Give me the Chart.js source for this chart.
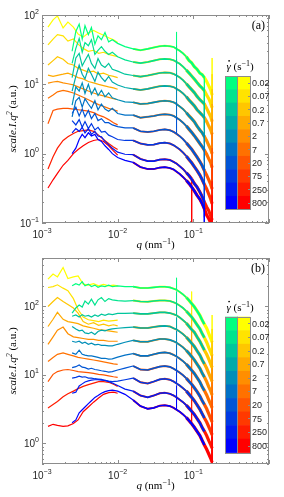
<!DOCTYPE html>
<html><head><meta charset="utf-8">
<script src="https://cdn.jsdelivr.net/npm/chart.js@4.4.0/dist/chart.umd.min.js"></script>
<style>
html,body{margin:0;padding:0;background:#fff;width:284px;height:497px;overflow:hidden}
canvas{position:absolute;left:0}
#ca{top:0}#cb{top:250px}
</style></head>
<body>
<canvas id="ca" width="284" height="250"></canvas>
<canvas id="cb" width="284" height="247"></canvas>
<script>
// ---------- categories / ticks ----------
const rates = ['0.02','0.07','0.2','0.7','2','7','20','75','250','800'];
const xTickExp = [-3,-2,-1];
const yTickExpA = [-1,0,1,2];
const yTickExpB = [0,1,2];
// ---------- q grids (nm^-1) ----------
const qLowA = [0.0012,0.0014,0.0016,0.0019,0.0022,0.0026,0.0030,0.0035,0.0041,0.0048,0.0056,0.0065,0.0076,0.0088,0.0100];
const qLowW = [0.0025,0.0028,0.0031,0.0034,0.0037,0.0041,0.0045,0.0050,0.0055,0.0061,0.0068,0.0076,0.0085,0.0100,0.0125];
const qHigh = [0.016,0.020,0.025,0.030,0.036,0.042,0.049,0.055,0.060,0.066,0.073,0.081,0.088,0.095,0.103,0.112,0.122,0.131,0.140,0.150,0.160,0.170,0.177];
const qGap = 0.0125, iSpikeW = 8, iSpikeA = 13, iWEnd = 18, iTail = 22;

// ---------- panel (a) ----------
const aAutLow = [
 [67,85,97,65,79,67,53,48,55,60,55,51,47,44,40],
 [37,45,52,50,42,45,38,33,30,31,28,29,27,26,25],
 [19,22,25,23,20,19,17,16,15,15.5,14,14.5,13.5,13,12.5],
 [13.6,13,13.5,14,14.5,13.5,12.5,12,11,10.5,10,9.6,9.2,8.9,8.5],
 [10.4,10.8,11,10.5,10.2,9.8,9.2,8.6,8,7.5,7.1,6.8,6.5,6.2,6.0],
 [6.3,7,7.8,8.2,7.9,7.5,7,6.5,6,5.5,5.1,4.8,4.5,4.3,4.1],
 [2.7,4.2,4.4,4.5,4.5,4.4,4.3,4.2,4.1,3.9,3.6,3.4,3.1,2.8,2.6],
 null,
 [0.6,0.9,1.2,1.55,1.75,1.95,2.1,2.15,2.2,2.1,1.85,1.6,1.4,1.25,1.15],
 [0.32,0.42,0.52,0.68,0.8,1.0,1.15,1.3,1.45,1.55,1.6,1.5,1.3,1.1,0.95]
];
const aWinLow = [
 [30,58,74,45,70,52,66,38,50,44,56,41,44,39,35],
 [20,33,46,29,40,36,44,27,31,35,30,27,29,25,22.5],
 [12.5,24,28,18.5,22,27,20,17,23.5,19,17.5,20,16.5,15.5,14],
 [8,13,19,14,12,17,14,11,15,12.5,11,13,10.8,9.8,9],
 [5,9.2,8,10.5,7.4,10,7.2,8.8,6.9,8.2,6.6,7.5,6.4,6,5.6],
 [3.4,5.8,6.5,4.7,6.2,5.2,4.5,5.8,4.3,5.2,4.4,4.1,4.5,3.8,3.6],
 [3.8,4.7,3.5,4.4,3.4,4.2,3.2,3.8,3.0,3.2,2.8,2.8,2.6,2.45,2.35],
 [3.0,2.6,3.1,2.4,2.9,2.3,2.7,2.2,2.4,2.05,2.1,1.85,1.75,1.6,1.55],
 [2.0,2.3,2.1,2.4,2.0,2.3,1.9,2.1,1.8,1.75,1.5,1.35,1.2,1.05,0.98],
 [1.0,1.2,1.6,1.9,1.7,2.0,1.8,1.9,1.6,1.5,1.3,1.15,1.0,0.88,0.8]
];
const aHigh = [
 [32.5,31,32.5,34,35.5,36,35.5,34.5,32.5,30.5,28,25,22,20.5,18,16.5,14.5,13.8,12.5,11,9.5,8.3,7],
 [21,20.2,21,22,23,23.3,23,22.2,21,19.8,18,16,14.5,13.2,11.9,10.6,9.5,8.8,8.1,7.0,6.2,5.3,4.6],
 [13.4,12.9,13.4,14,14.6,14.8,14.7,14.1,13.4,12.6,11.5,10.2,9.2,8.4,7.6,6.7,6.0,5.6,5.2,4.5,3.9,3.4,2.9],
 [8.6,8.3,8.6,9,9.4,9.5,9.4,9.1,8.6,8.1,7.4,6.6,5.9,5.4,4.9,4.3,3.9,3.6,3.3,2.9,2.5,2.2,1.9],
 [5.5,5.2,5.3,5.5,5.7,5.8,5.7,5.5,5.2,4.8,4.4,3.9,3.5,3.2,2.9,2.5,2.2,2.0,1.76,1.54,1.32,1.15,1.0],
 [3.6,3.3,3.4,3.5,3.65,3.7,3.65,3.5,3.3,3.08,2.8,2.5,2.24,2.03,1.82,1.6,1.4,1.26,1.12,0.98,0.84,0.74,0.63],
 [2.35,2.1,2.05,2.1,2.2,2.24,2.18,2.06,1.93,1.79,1.62,1.43,1.28,1.16,1.02,0.89,0.77,0.67,0.57,0.49,0.42,0.36,0.31],
 [1.55,1.4,1.34,1.35,1.42,1.44,1.4,1.32,1.24,1.15,1.04,0.92,0.82,0.74,0.65,0.57,0.49,0.42,0.36,0.31,0.26,0.22,0.19],
 [0.97,0.84,0.78,0.78,0.82,0.83,0.81,0.76,0.72,0.66,0.6,0.53,0.48,0.43,0.37,0.33,0.28,0.24,0.2,0.17,0.15,0.125,0.11],
 [0.75,0.64,0.6,0.6,0.63,0.64,0.62,0.59,0.55,0.51,0.46,0.41,0.37,0.33,0.29,0.25,0.22,0.19,0.16,0.13,0.115,0.1,0.085]
];
const aWinSpike = [57,36,23,14.5,8.8,5.5,3.3,null,null,null];     // at q=0.060
const aAutSpike = [null,null,null,null,null,null,null,null,0.02,0.02]; // at q=0.095
const aWinEnd   = [5.5,3.5,2.2,1.4,0.8,0.5,0.25,0.12,0.05,0.05]; // end at q=0.140
const aAutTail  = [24,14,8.5,5.2,3.2,2.0,1.2,0.7,0.4,0.25];      // at q=0.177
const aOff = 0.01;

// ---------- panel (b) ----------
const bAutLow = [
 [250,297,270,370,255,270,280,212,205,215,200,210,200,205,200],
 [189,195,207,185,170,130,90,70,64,62,60,63,61,62,63],
 [100,118,135,118,107,95,80,60,55,58,53,55,52,54,52],
 [51,65,82,65,60,58,56,52,50,48,46,45,44,43,42],
 [28,36,45,50,40,36,35,34,33,33,32,32,31,31,31],
 [15.7,18,20,21,20,19,18,17.5,17,16.5,16,15.5,15,14.5,14.3],
 [8.0,10.2,11.2,11.8,12,11.6,11.2,11,10.8,10.5,10.2,10,9.7,9.4,9.2],
 null,
 [3.3,3.7,4.1,4.8,5.3,5.8,6.3,6.8,7.2,7.6,8.0,8.0,7.8,7.3,6.8],
 [1.77,1.9,1.83,1.77,1.8,1.95,2.2,2.9,3.4,4.0,4.6,5.2,5.5,5.6,5.4]
];
const bWinLow = [
 [200,215,205,230,200,212,195,205,190,200,195,205,195,200,195],
 [80,95,105,98,120,108,128,105,125,135,118,130,125,122,120],
 [72,75,70,76,72,74,70,75,72,77,74,78,76,79,79],
 [51,47,44,45,41,40,42,39,43,45,44,46,47,48,49],
 [31,30,31,29,30,28,29,27.5,28,27,27,26.5,26.5,28,30],
 [21,20,23,20,19.5,19,19,18.5,18,17.5,17.5,17,17.2,18.2,19.5],
 [12.8,13.2,14,13,12.8,12.2,12.5,12,11.8,11.5,11.3,11,11.2,11.8,12.6],
 [9,9.2,9.6,9.3,9.4,9.0,9.0,8.8,8.7,8.6,8.3,8.1,8.0,8.1,8.5],
 [5.4,5.6,6.9,7.4,7.9,8.2,8.4,8.5,8.5,8.4,8.3,8.0,7.6,7.0,6.2],
 [2.0,2.2,2.8,3.1,3.4,3.8,4.2,4.7,5.0,5.4,5.7,5.9,6.0,5.8,5.2]
];
const bHigh = [
 [195,186,186,190,194,194,190,182,175,163,150,135,122,110,99,86,74,63,55,48,40,34,30],
 [122,118,117,120,122,122,120,115,110,103,95,85,77,70,62,54,47,40,35,30,25,21.6,19],
 [80,78,78,80,82,82,80,77,74,69,63,57,51,46,42,36,31,26.5,23,20,17,14.4,12.8],
 [50,48.5,48.5,50,51.5,52,51,48,46,43,39.5,35.5,32,29,26,22.5,19.5,16.5,14.5,12.5,10.5,9,8],
 [32,30.5,30.5,32,33.5,33.5,32.5,31,29.5,27.5,25.3,22.7,20.5,18.5,16.6,14.4,12.5,10.6,9.3,8,6.7,5.8,5.1],
 [20.5,19,19,20,21,21.3,20.7,19.6,18.6,17.3,15.9,14.3,12.9,11.7,10.5,9.1,7.9,6.7,5.9,5.1,4.3,3.7,3.3],
 [13.5,12,11.8,12.5,13.2,13.5,13.1,12.3,11.6,10.8,9.9,8.9,8.0,7.3,6.5,5.7,4.9,4.2,3.7,3.2,2.7,2.3,2.05],
 [9,7.8,7.5,8,8.6,8.8,8.5,8.0,7.5,7.0,6.4,5.8,5.2,4.7,4.2,3.65,3.15,2.7,2.35,2.05,1.75,1.5,1.33],
 [5.8,5.0,4.7,5.0,5.4,5.5,5.3,5.0,4.7,4.35,4.0,3.6,3.25,2.95,2.65,2.3,2.0,1.7,1.5,1.3,1.1,0.95,0.85],
 [4.3,3.5,3.2,3.3,3.55,3.6,3.5,3.3,3.1,2.9,2.65,2.38,2.14,1.93,1.72,1.5,1.3,1.1,0.95,0.82,0.7,0.6,0.53]
];
const bWinSpike = [262,165,111,69,44,28,17.4,11.2,7,4.6];
const bAutSpike = [165,105,70,44,28,18,11,7.2,4.5,3.0];
const bWinEnd   = [null,null,null,null,null,null,null,null,null,null];
const bAutTail  = [75,47,31,19.5,12.5,7.8,4.9,3.1,1.95,1.25];
const bOff = 0.3;

// ---------- colours (MATLAB winter / autumn) ----------
function winter(i){const t=(9-i)/9;return `rgb(0,${Math.round(255*t)},${Math.round(255*(1-0.5*t))})`;}
function autumn(i){const t=(9-i)/9;return `rgb(255,${Math.round(255*t)},0)`;}

function widthFn(base, hi){
  return c=>{const a=c.p0.parsed.x,b=c.p1.parsed.x; if(Math.abs(b-a)<1e-9) return 1; if(a>0.075) return base+hi; if(a>0.015) return base+hi*0.35; return base;};
}
function highPts(vals, upto, inserts){
  const pts=[];
  for(let k=0;k<=upto;k++){pts.push({x:qHigh[k],y:vals[k]}); if(inserts[k]) inserts[k].forEach(v=>pts.push({x:qHigh[k],y:v}));}
  return pts;
}
function buildSets(autLow, winLow, high, winSpike, autSpike, winEnd, autTail, off){
  const sets=[];
  for(let i=0;i<10;i++){
    let pts=[];
    if(autLow[i]) {qLowA.forEach((q,k)=>pts.push({x:q,y:autLow[i][k]})); pts.push({x:qGap,y:null});}
    const insA={}; if(autSpike[i]!=null) insA[iSpikeA]=[autSpike[i],high[i][iSpikeA]];
    insA[iTail]=[autTail[i],off];
    pts=pts.concat(highPts(high[i],iTail,insA));
    sets.push({data:pts,borderColor:autumn(i),borderWidth:1.2,order:100-i,clip:0,
      segment:{borderWidth:widthFn(1.2,2.0)}});
    let w=[]; qLowW.forEach((q,k)=>w.push({x:q,y:winLow[i][k]}));
    const insW={}; if(winSpike[i]!=null) insW[iSpikeW]=[winSpike[i],high[i][iSpikeW]];
    if(winEnd[i]!=null) insW[iWEnd]=[winEnd[i]];
    w=w.concat(highPts(high[i],iWEnd,insW));
    sets.push({data:w,borderColor:winter(i),borderWidth:1.2,order:50-i,clip:0,
      segment:{borderWidth:widthFn(1.2,1.2)}});
  }
  return sets;
}

// ---------- decoration plugin (frame, ticks, labels, colorbar) ----------
const SANS='"Liberation Sans", Arial, Helvetica, sans-serif';
const SERIF='"Liberation Serif", "Times New Roman", serif';
function pow10(ctx,exp,x,y,align){
  const es = exp<0 ? '\u2212'+(-exp) : String(exp);
  ctx.font='10px '+SANS; const wb=ctx.measureText('10').width;
  ctx.font='7px '+SANS; const we=ctx.measureText(es).width;
  const x0 = align==='center' ? x-(wb+we)/2 : x-(wb+we);
  ctx.textAlign='left';
  ctx.font='10px '+SANS; ctx.fillText('10',x0,y);
  ctx.font='7px '+SANS; ctx.fillText(es,x0+wb,y-5);
}
function runs(ctx,parts,x,y,align){
  let w=0; parts.forEach(p=>{ctx.font=p[1]; w+=ctx.measureText(p[0]).width;});
  let cx = align==='center'? x-w/2 : x;
  ctx.textAlign='left';
  parts.forEach(p=>{ctx.font=p[1]; const pw=ctx.measureText(p[0]).width; ctx.fillText(p[0],cx,y+(p[2]||0));
    if(p[3]){ctx.beginPath(); ctx.arc(cx+pw*0.62,y-9.2,0.85,0,Math.PI*2); ctx.fill();}
    cx+=pw;});
}
const deco={
  id:'deco',
  afterDatasetsDraw(chart,args,o){
    const ctx=chart.ctx, a=chart.chartArea, xs=chart.scales.x, ys=chart.scales.y;
    ctx.save();
    ctx.strokeStyle='#8c8c8c'; ctx.lineWidth=1;
    ctx.strokeRect(Math.round(a.left)+0.5,Math.round(a.top)+0.5,Math.round(a.right-a.left)-1,Math.round(a.bottom-a.top)-1);
    ctx.beginPath();
    for(let d=-3;d<=0;d++) for(let m=1;m<=9;m++){const v=m*Math.pow(10,d); if(v<xs.min*0.999||v>xs.max*1.001) continue;
      const px=Math.round(xs.getPixelForValue(v))+0.5, L=m===1?4:2;
      ctx.moveTo(px,a.bottom); ctx.lineTo(px,a.bottom-L); ctx.moveTo(px,a.top); ctx.lineTo(px,a.top+L);}
    for(let d=-2;d<=3;d++) for(let m=1;m<=9;m++){const v=m*Math.pow(10,d); if(v<ys.min*0.999||v>ys.max*1.001) continue;
      const py=Math.round(ys.getPixelForValue(v))+0.5, L=m===1?4:2;
      ctx.moveTo(a.left,py); ctx.lineTo(a.left+L,py); ctx.moveTo(a.right,py); ctx.lineTo(a.right-L,py);}
    ctx.stroke();
    ctx.fillStyle='#262626'; ctx.textBaseline='alphabetic';
    xTickExp.forEach(e=>pow10(ctx,e,xs.getPixelForValue(Math.pow(10,e)),a.bottom+15,'center'));
    o.yExp.forEach(e=>pow10(ctx,e,a.left-3,ys.getPixelForValue(Math.pow(10,e))+3.5,'right'));
    ctx.fillStyle='#000';
    runs(ctx,[['q','italic 11px '+SERIF],[' (nm','11px '+SERIF],['\u22121','8px '+SERIF,-4],[')','11px '+SERIF]],(a.left+a.right)/2,a.bottom+o.xTitleDy,'center');
    ctx.save(); ctx.translate(16,(a.top+a.bottom)/2); ctx.rotate(-Math.PI/2);
    runs(ctx,[['scale.I.q','italic 11px '+SERIF],['2','italic 8px '+SERIF,-4],[' (a.u.)','11px '+SERIF]],0,0,'center');
    ctx.restore();
    ctx.font='12px '+SERIF; ctx.textAlign='right'; ctx.fillText(o.tag,a.right-4,a.top+o.tagDy);
    const x0=225,xm=237.5,x1=250,t=o.cbTop,b=o.cbBot,h=(b-t)/10;
    for(let i=0;i<10;i++){ctx.fillStyle=winter(i);ctx.fillRect(x0,t+i*h,xm-x0,h+0.6);ctx.fillStyle=autumn(i);ctx.fillRect(xm,t+i*h,x1-xm,h+0.6);}
    ctx.strokeStyle='#8c8c8c'; ctx.lineWidth=1;
    ctx.strokeRect(x0+0.5,Math.round(t)+0.5,x1-x0,Math.round(b-t));
    ctx.beginPath(); ctx.moveTo(xm,t); ctx.lineTo(xm,b);
    for(let i=0;i<10;i++){const yy=Math.round(t+(i+0.5)*h)+0.5; ctx.moveTo(x1-2,yy); ctx.lineTo(x1+0.5,yy);}
    ctx.stroke();
    ctx.fillStyle='#262626'; ctx.font='9px '+SANS; ctx.textAlign='left';
    rates.forEach((r,i)=>ctx.fillText(r,252,t+(i+0.5)*h+3.2));
    ctx.fillStyle='#000';
    runs(ctx,[['\u03B3','italic 11px '+SERIF,0,true],[' (s','11px '+SERIF],['\u22121','8px '+SERIF,-4],[')','11px '+SERIF]],240,t-6,'center');
    ctx.restore();
  }
};
function makeChart(id,sets,ymin,ymax,pad,opts){
  return new Chart(document.getElementById(id),{
    type:'line', data:{datasets:sets},
    options:{responsive:false,animation:false,devicePixelRatio:1,layout:{padding:pad},
      elements:{point:{radius:0},line:{tension:0}}, spanGaps:false,
      plugins:{legend:{display:false},tooltip:{enabled:false},deco:opts},
      scales:{x:{type:'logarithmic',min:0.001,max:1,display:false},y:{type:'logarithmic',min:ymin,max:ymax,display:false}}},
    plugins:[deco]});
}
makeChart('ca',buildSets(aAutLow,aWinLow,aHigh,aWinSpike,aAutSpike,aWinEnd,aAutTail,aOff),0.1,100,
  {left:42,right:15,top:15,bottom:27},{yExp:yTickExpA,tag:'(a)',tagDy:14,xTitleDy:25,cbTop:76,cbBot:209.3});
makeChart('cb',buildSets(bAutLow,bWinLow,bHigh,bWinSpike,bAutSpike,bWinEnd,bAutTail,bOff),0.5,510,
  {left:42,right:15,top:8,bottom:33},{yExp:yTickExpB,tag:'(b)',tagDy:14,xTitleDy:25,cbTop:66.7,cbBot:202.3});
</script>
</body></html>
